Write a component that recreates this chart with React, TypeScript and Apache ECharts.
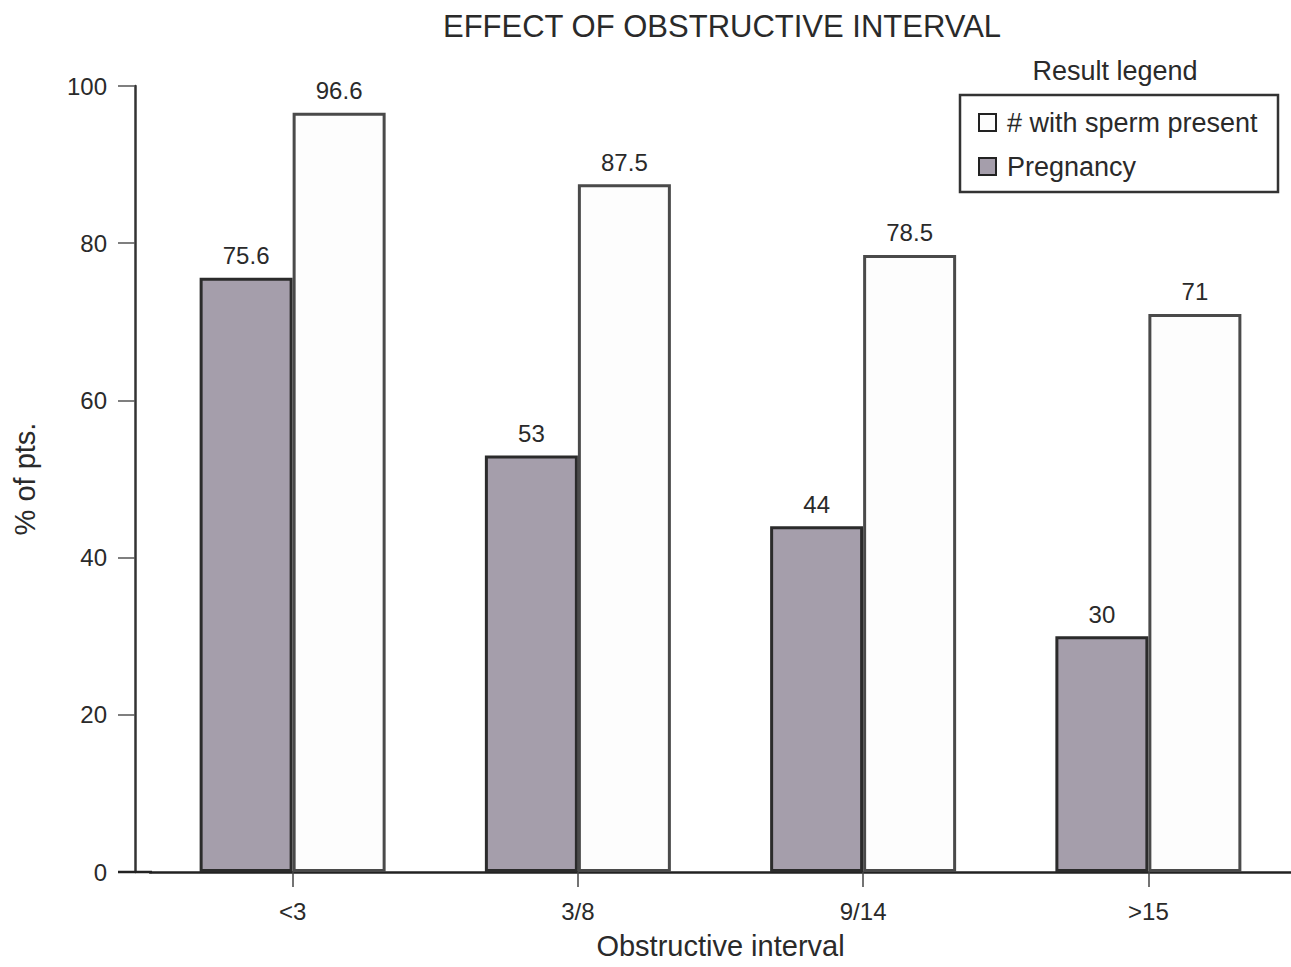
import React, { useEffect, useRef } from "react";
import * as echarts from "echarts";

const categories = ["<3", "3/8", "9/14", ">15"];
const pregnancy = [75.6, 53, 44, 30];
const spermPresent = [96.6, 87.5, 78.5, 71];
const yTicks = { min: 0, max: 100, interval: 20 };

const FONT = "'Liberation Sans', Arial, Helvetica, sans-serif";
const TEXT = "#2a2a2a";
const PREG_FILL = "#a59eab";
const PREG_BORDER = "#2b2b2b";
const SPERM_FILL = "#fdfdfd";
const SPERM_BORDER = "#4a4a4a";

export default function App() {
  const ref = useRef<HTMLDivElement>(null);
  useEffect(() => {
    if (!ref.current) return;
    const chart = echarts.init(ref.current, null, { renderer: "svg" });
    chart.setOption({
      animation: false,
      backgroundColor: "#ffffff",
      textStyle: { fontFamily: FONT },
      title: {
        text: "EFFECT OF OBSTRUCTIVE INTERVAL",
        left: 717,
        top: 6,
        textAlign: "center",
        textStyle: { fontFamily: FONT, fontSize: 31, fontWeight: "normal", color: TEXT },
      },
      grid: { left: 150, right: 0, top: 86, bottom: 95, containLabel: false, outerBoundsMode: "none" },
      legend: {
        orient: "vertical",
        left: 973,
        top: 104,
        itemWidth: 17,
        itemHeight: 17,
        itemGap: 17,
        icon: "rect",
        textStyle: { fontFamily: FONT, fontSize: 27, color: TEXT, padding: [0, 0, 0, 6] },
        data: [
          { name: "# with sperm present", itemStyle: { color: SPERM_FILL, borderColor: "#222", borderWidth: 2 } },
          { name: "Pregnancy", itemStyle: { color: PREG_FILL, borderColor: "#222", borderWidth: 2 } },
        ],
      },
      graphic: [
        {
          type: "rect",
          shape: { x: 960, y: 95, width: 318, height: 97 },
          style: { fill: "none", stroke: "#333", lineWidth: 2.5 },
          z: 10,
        },
        {
          type: "text",
          x: 1115,
          y: 71,
          style: {
            text: "Result legend",
            align: "center",
            verticalAlign: "middle",
            fontFamily: FONT,
            fontSize: 27,
            fill: TEXT,
          },
        },
        {
          type: "line",
          shape: { x1: 118, y1: 872, x2: 152, y2: 872 },
          style: { stroke: "#222", lineWidth: 2.5 },
          z: 10,
        },
      ],
      xAxis: {
        type: "category",
        data: categories,
        name: "Obstructive interval",
        nameLocation: "middle",
        nameGap: 59,
        nameTextStyle: { fontFamily: FONT, fontSize: 29, color: TEXT },
        axisLine: { show: true, lineStyle: { color: "#222", width: 2.5 } },
        axisTick: { show: true, alignWithLabel: true, length: 15, lineStyle: { color: "#444", width: 1.5 } },
        axisLabel: { fontFamily: FONT, fontSize: 24, color: TEXT, margin: 27 },
        splitLine: { show: false },
      },
      yAxis: {
        type: "value",
        min: yTicks.min,
        max: yTicks.max,
        interval: yTicks.interval,
        offset: 15,
        name: "% of pts.",
        nameLocation: "middle",
        nameGap: 96,
        nameTextStyle: { fontFamily: FONT, fontSize: 29, color: TEXT },
        axisLine: { show: true, lineStyle: { color: "#333", width: 2.5 } },
        axisTick: { show: true, length: 17, lineStyle: { color: "#555", width: 1.5 } },
        axisLabel: { fontFamily: FONT, fontSize: 24, color: TEXT, margin: 28 },
        splitLine: { show: false },
      },
      series: [
        {
          name: "Pregnancy",
          type: "bar",
          data: pregnancy,
          barWidth: 93,
          barGap: "0%",
          itemStyle: { color: PREG_FILL, borderColor: PREG_BORDER, borderWidth: 3 },
          label: { show: true, position: "top", distance: 10, fontFamily: FONT, fontSize: 24, color: TEXT },
        },
        {
          name: "# with sperm present",
          type: "bar",
          data: spermPresent,
          barWidth: 93,
          barGap: "0%",
          itemStyle: { color: SPERM_FILL, borderColor: SPERM_BORDER, borderWidth: 3 },
          label: { show: true, position: "top", distance: 10, fontFamily: FONT, fontSize: 24, color: TEXT },
        },
      ],
    });
    return () => chart.dispose();
  }, []);
  return (
    <div
      ref={ref}
      style={{ position: "fixed", left: 0, top: 0, width: "1291px", height: "967px" }}
    />
  );
}
